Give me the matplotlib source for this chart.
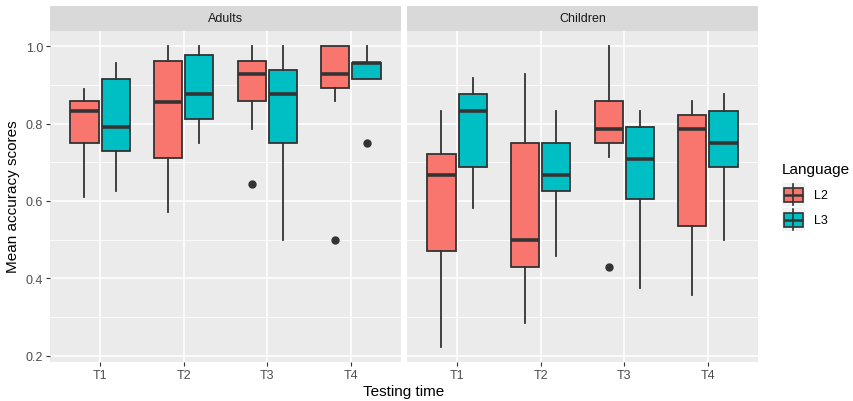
#!/usr/bin/env python3
# boxplots of accuracy by testing time, faceted adults / children

import matplotlib
matplotlib.use('Agg')
import matplotlib.pyplot as plt
from matplotlib.patches import Rectangle

plt.rcParams['font.family'] = ['Liberation Sans', 'DejaVu Sans']

times = ['T1', 'T2', 'T3', 'T4']
groups = ['Adults', 'Children']
langs = ['L2', 'L3']
colours = {'L2': '#F8766D', 'L3': '#00BFC4'}

# five-number summaries, one list per time point
# order: whisker low, q1, median, q3, whisker high
adults_L2 = [[0.611, 0.750, 0.833, 0.859, 0.889],
             [0.571, 0.712, 0.856, 0.962, 1.000],
             [0.786, 0.857, 0.929, 0.962, 1.000],
             [0.857, 0.893, 0.929, 1.000, 1.000]]
adults_L3 = [[0.625, 0.729, 0.792, 0.914, 0.957],
             [0.750, 0.811, 0.875, 0.978, 1.000],
             [0.500, 0.750, 0.875, 0.937, 1.000],
             [0.915, 0.915, 0.957, 0.957, 1.000]]
children_L2 = [[0.223, 0.471, 0.667, 0.722, 0.833],
               [0.286, 0.429, 0.500, 0.750, 0.929],
               [0.714, 0.750, 0.786, 0.857, 1.000],
               [0.357, 0.536, 0.786, 0.821, 0.857]]
children_L3 = [[0.583, 0.688, 0.833, 0.875, 0.917],
               [0.458, 0.625, 0.667, 0.750, 0.833],
               [0.375, 0.604, 0.708, 0.792, 0.833],
               [0.500, 0.688, 0.750, 0.833, 0.875]]

# outliers per time point
adults_L2_out = [[], [], [0.643], [0.5]]
adults_L3_out = [[], [], [], [0.75]]
children_L2_out = [[], [], [0.429], []]
children_L3_out = [[], [], [], []]

data = {
    'Adults': {'L2': (adults_L2, adults_L2_out), 'L3': (adults_L3, adults_L3_out)},
    'Children': {'L2': (children_L2, children_L2_out), 'L3': (children_L3, children_L3_out)},
}

W, H = 854, 402
fig = plt.figure(figsize=(W / 100, H / 100), dpi=100)

panel_left = [50, 407]
panel_w = 351
top, bottom = 32, 363

edge = '#333333'
offset = 0.1875
bw = 0.3375


def stats_of(summ, outs):
    res = []
    for s, o in zip(summ, outs):
        res.append(dict(whislo=s[0], q1=s[1], med=s[2], q3=s[3], whishi=s[4], fliers=o))
    return res


for k, g in enumerate(groups):
    ax = fig.add_axes([panel_left[k] / W, (H - bottom) / H, panel_w / W, (bottom - top) / H])
    ax.set_facecolor('#EBEBEB')
    for sp in ax.spines.values():
        sp.set_visible(False)
    ax.set_xlim(0.4, 4.6)
    ax.set_ylim(0.184, 1.039)
    ax.set_yticks([0.2, 0.4, 0.6, 0.8, 1.0])
    ax.set_yticks([0.3, 0.5, 0.7, 0.9], minor=True)
    ax.set_xticks(range(1, 5))
    ax.set_xticklabels(times)
    ax.grid(True, which='major', color='white', lw=1.1, zorder=0)
    ax.grid(True, which='minor', axis='y', color='white', lw=0.55, zorder=0)
    ax.set_axisbelow(True)
    ax.tick_params(axis='both', which='major', length=3, width=0.8, color='#333333',
                   labelsize=9, labelcolor='#4D4D4D', pad=2)
    ax.tick_params(axis='both', which='minor', length=0)
    if k == 0:
        ax.set_yticklabels(['0.2', '0.4', '0.6', '0.8', '1.0'])
    else:
        ax.tick_params(axis='y', which='major', length=0, labelleft=False)

    for j, lang in enumerate(langs):
        summ, outs = data[g][lang]
        pos = [i + 1 + (j * 2 - 1) * offset for i in range(len(times))]
        ax.bxp(stats_of(summ, outs), positions=pos, widths=bw, patch_artist=True,
               showcaps=False, manage_ticks=False,
               boxprops=dict(facecolor=colours[lang], edgecolor=edge, lw=1.3),
               whiskerprops=dict(color=edge, lw=1.3),
               medianprops=dict(color=edge, lw=2.6, solid_capstyle='butt'),
               flierprops=dict(marker='o', markerfacecolor=edge, markeredgecolor=edge,
                               markersize=5))

    # facet strip
    sax = fig.add_axes([panel_left[k] / W, (H - top) / H, panel_w / W, 25 / H])
    sax.set_facecolor('#D9D9D9')
    sax.set_xticks([])
    sax.set_yticks([])
    for sp in sax.spines.values():
        sp.set_visible(False)
    sax.text(0.5, 0.5, g, ha='center', va='center', fontsize=9, color='#1A1A1A',
             transform=sax.transAxes)

fig.text(404 / W, 1 - 392 / H, 'Testing time', ha='center', va='center', fontsize=11)
fig.text(13 / W, 1 - 197 / H, 'Mean accuracy scores', ha='center', va='center',
         rotation=90, fontsize=11)

# legend drawn by hand in pixel coordinates
lax = fig.add_axes([0, 0, 1, 1], zorder=5)
lax.set_xlim(0, W)
lax.set_ylim(H, 0)
lax.axis('off')
lax.text(782, 170, 'Language', ha='left', va='center', fontsize=11)
key_y = [184, 209]
for j, lang in enumerate(langs):
    y0 = key_y[j]
    lax.add_patch(Rectangle((782, y0), 23, 23, facecolor='#F2F2F2', edgecolor='none'))
    lax.plot([793.5, 793.5], [y0 + 1, y0 + 22], color=edge, lw=1.2)
    lax.add_patch(Rectangle((784, y0 + 5), 19, 14, facecolor=colours[lang], edgecolor=edge,
                            lw=1.2))
    lax.plot([784, 803], [y0 + 12, y0 + 12], color=edge, lw=1.8, solid_capstyle='butt')
    lax.text(814, y0 + 12, lang, ha='left', va='center', fontsize=9)

fig.savefig('out.png', dpi=100)
